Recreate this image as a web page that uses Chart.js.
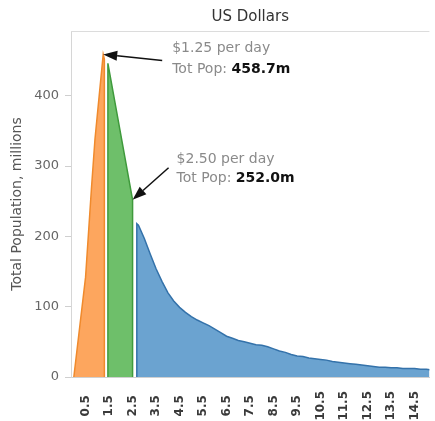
<!DOCTYPE html>
<html>
<head>
<meta charset="utf-8">
<script src="https://cdn.jsdelivr.net/npm/chart.js@4"></script>
<style>
  html, body { margin: 0; padding: 0; background: #fff; }
  #wrap { width: 435px; height: 421px; }
</style>
</head>
<body>
<div id="wrap"><canvas id="chart" width="435" height="421"></canvas></div>
<script>
// Income (US$ per day) vs population, three bands
const orangeX = [0, 0.5, 0.75, 0.9, 1.25, 1.3, 1.3];
const orangeY = [0, 142, 268, 338, 458.7, 452, 0];

const greenX = [1.45, 1.45, 2.5, 2.5];
const greenY = [0, 446, 252, 0];

const blueX = [2.68, 2.68, 2.75, 3.0, 3.25, 3.5, 3.75, 4.0, 4.25, 4.5, 4.75, 5.0, 5.25, 5.5,
  5.75, 6.0, 6.25, 6.5, 6.75, 7.0, 7.25, 7.5, 7.75, 8.0, 8.25, 8.5, 8.75, 9.0, 9.25, 9.5,
  9.75, 10.0, 10.25, 10.5, 10.75, 11.0, 11.25, 11.5, 11.75, 12.0, 12.25, 12.5, 12.75, 13.0,
  13.25, 13.5, 13.75, 14.0, 14.25, 14.5, 14.75, 15.0, 15.25];
const blueY = [0, 218, 216, 197, 175, 154, 136, 120, 108, 99, 92, 86, 81, 77,
  73, 68, 63, 58, 55, 52, 50, 48, 46, 45, 43, 40, 37, 35, 32, 30,
  29, 27, 26, 25, 24, 22, 21, 20, 19, 18, 17, 16, 15, 14,
  14, 13, 13, 12, 12, 12, 11, 11, 10];

const tickValues = [0.5, 1.5, 2.5, 3.5, 4.5, 5.5, 6.5, 7.5, 8.5, 9.5, 10.5, 11.5, 12.5, 13.5, 14.5];
const tickLabels = ["0.5", "1.5", "2.5", "3.5", "4.5", "5.5", "6.5", "7.5", "8.5", "9.5",
  "10.5", "11.5", "12.5", "13.5", "14.5"];
const yTickValues = [0, 100, 200, 300, 400];

// Callouts
const noteX = [1.25, 2.5];
const noteY = [458.7, 252.0];
const noteLabel = ["$1.25 per day", "$2.50 per day"];
const noteValue = ["458.7m", "252.0m"];

const FONT = "'DejaVu Sans', sans-serif";
Chart.defaults.font.family = FONT;

function pts(xs, ys) {
  return xs.map((x, i) => ({ x, y: ys[i] }));
}

function area(label, xs, ys, fill, line) {
  return {
    label,
    data: pts(xs, ys),
    backgroundColor: fill,
    borderColor: line,
    borderWidth: 1.5,
    fill: "origin",
    pointRadius: 0,
    tension: 0,
  };
}

// offsets (px) from the tip: text left, first line, second line, arrow tail
const noteLayout = [
  { tx: 69, l1: -6, l2: 15, ax: 59, ay: 6 },
  { tx: 44, l1: -40, l2: -21, ax: 36, ay: -32 },
];

function drawArrow(ctx, x0, y0, x1, y1) {
  const a = Math.atan2(y1 - y0, x1 - x0);
  const len = 14, half = 5;
  const bx = x1 - Math.cos(a) * len, by = y1 - Math.sin(a) * len;
  ctx.strokeStyle = "#111";
  ctx.lineWidth = 1.5;
  ctx.beginPath();
  ctx.moveTo(x0, y0);
  ctx.lineTo(bx, by);
  ctx.stroke();
  ctx.fillStyle = "#111";
  ctx.beginPath();
  ctx.moveTo(x1, y1);
  ctx.lineTo(bx - Math.sin(a) * half, by + Math.cos(a) * half);
  ctx.lineTo(bx + Math.sin(a) * half, by - Math.cos(a) * half);
  ctx.closePath();
  ctx.fill();
}

const decor = {
  id: "decor",
  afterDraw(chart) {
    const { ctx, chartArea: ca, scales } = chart;
    ctx.save();
    // top frame line
    ctx.strokeStyle = "#dcdcdc";
    ctx.lineWidth = 1;
    ctx.beginPath();
    ctx.moveTo(ca.left, ca.top + 0.5);
    ctx.lineTo(ca.right, ca.top + 0.5);
    ctx.stroke();

    // header
    ctx.fillStyle = "#333";
    ctx.font = "15px " + FONT;
    ctx.textAlign = "center";
    ctx.textBaseline = "middle";
    ctx.fillText("US Dollars", (ca.left + ca.right) / 2, 17);

    // callouts
    noteX.forEach((v, i) => {
      const px = scales.x.getPixelForValue(v);
      const py = scales.y.getPixelForValue(noteY[i]);
      const L = noteLayout[i];
      drawArrow(ctx, px + L.ax, py + L.ay, px, py);
      ctx.textAlign = "left";
      ctx.textBaseline = "middle";
      ctx.font = "14px " + FONT;
      ctx.fillStyle = "#8a8a8a";
      ctx.fillText(noteLabel[i], px + L.tx, py + L.l1);
      const pre = "Tot Pop: ";
      ctx.fillText(pre, px + L.tx, py + L.l2);
      const w = ctx.measureText(pre).width;
      ctx.font = "bold 14px " + FONT;
      ctx.fillStyle = "#111";
      ctx.fillText(noteValue[i], px + L.tx + w, py + L.l2);
    });
    ctx.restore();
  },
};

const chart = new Chart(document.getElementById("chart").getContext("2d"), {
  type: "line",
  data: {
    datasets: [
      area("under $1.25", orangeX, orangeY, "#fda65e", "#f08a2c"),
      area("$1.25 - $2.50", greenX, greenY, "#6ebf6a", "#3f9a3c"),
      area("over $2.50", blueX, blueY, "#6ba3d0", "#3472aa"),
    ],
  },
  options: {
    responsive: false,
    animation: false,
    layout: { padding: { top: 31, right: 0, left: 0, bottom: 0 } },
    plugins: {
      legend: { display: false },
      tooltip: { enabled: false },
      title: { display: false },
    },
    scales: {
      x: {
        type: "linear",
        min: -0.12,
        max: 15.13,
        grid: { display: false },
        border: { display: true, color: "#d0d0d0" },
        afterBuildTicks: (s) => { s.ticks = tickValues.map((v) => ({ value: v })); },
        afterFit: (s) => { s.height = 44; },
        ticks: {
          autoSkip: false,
          minRotation: 90,
          maxRotation: 90,
          padding: 6,
          color: "#3a3a3a",
          font: { size: 12, weight: "bold" },
          callback: (v) => {
            const lab = tickLabels[tickValues.indexOf(v)] ?? "";
            return lab.length < 4 ? lab + " " : lab;
          },
        },
      },
      y: {
        type: "linear",
        min: 0,
        max: 492,
        grid: { drawOnChartArea: false, drawTicks: true, tickLength: 6, color: "#cfcfcf" },
        border: { display: true, color: "#d6d6d6" },
        afterBuildTicks: (s) => { s.ticks = yTickValues.map((v) => ({ value: v })); },
        afterFit: (s) => { s.width = 71; },
        ticks: {
          padding: 6,
          color: "#666",
          font: { size: 13 },
          callback: (v) => String(v),
        },
        title: {
          display: true,
          text: "Total Population, millions",
          color: "#555",
          font: { size: 14 },
          padding: { top: 9, bottom: 0 },
        },
      },
    },
  },
  plugins: [decor],
});
</script>
</body>
</html>
